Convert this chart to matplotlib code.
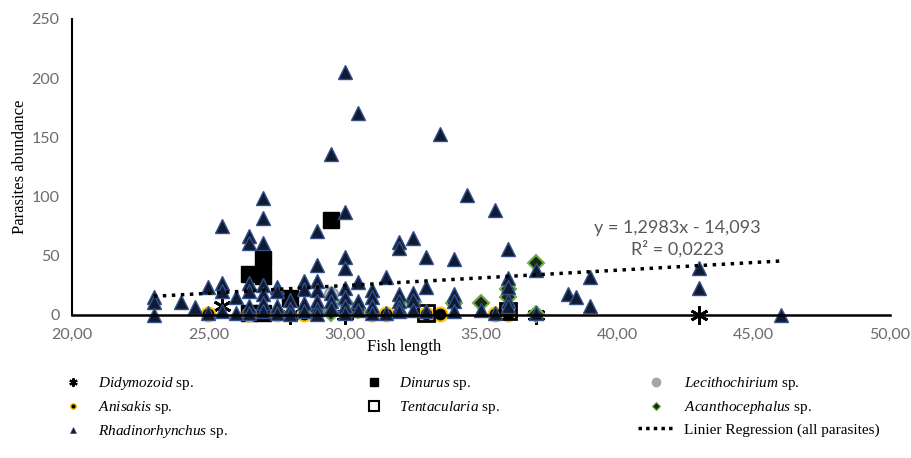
import matplotlib
matplotlib.use("Agg")
import matplotlib.pyplot as plt
from matplotlib.lines import Line2D

plt.rcParams['mathtext.fontset'] = 'custom'
plt.rcParams['mathtext.rm'] = 'Liberation Serif'
plt.rcParams['mathtext.it'] = 'Liberation Serif:italic'

# fish length (cm) vs parasite count
didy_x = [25.5, 28.0, 30.0, 37.0, 43.0]
didy_y = [8, 0, 0, 0, 0]

dinu_x = [26.5, 27.0, 27.0, 28.0, 29.5, 26.5, 27.0]
dinu_y = [35, 47, 33, 14, 80, 2, 2]

leci_x = [29.5]
leci_y = [18]

anis_x = [25.0, 26.5, 27.5, 28.5, 31.0, 31.5, 33.0, 33.5, 35.5, 36.0]
anis_y = [1, 1, 1, 1, 1, 1, 1, 1, 1, 1]

tent_x = [33.0, 36.0]
tent_y = [2, 3]

acan_x = [29.0, 29.5, 30.0, 30.5, 32.5, 34.0, 35.0, 36.0, 36.0, 37.0, 37.0]
acan_y = [3, 2, 10, 4, 11, 10, 10, 22, 15, 44, 1]

rhad_x = [23, 23, 23, 24, 24.5, 25, 25,
          25.5, 25.5, 25.5, 25.5, 26, 26,
          26.5, 26.5, 26.5, 26.5, 26.5, 26.5,
          27, 27, 27, 27, 27, 27, 27,
          27.5, 27.5, 27.5, 27.5, 28, 28, 28,
          28.5, 28.5, 28.5, 28.5,
          29, 29, 29, 29, 29, 29, 29,
          29.5, 29.5, 29.5, 29.5,
          30, 30, 30, 30, 30, 30, 30, 30,
          30.5, 30.5, 30.5, 30.5, 31, 31, 31, 31, 31.5, 31.5,
          32, 32, 32, 32, 32, 32, 32.5, 32.5, 32.5, 32.5,
          33, 33, 33, 33.5, 34, 34, 34, 34, 34.5, 35, 35.5, 35.5,
          36, 36, 36, 36, 36, 37, 37, 38.2, 38.5, 39, 39, 43, 43, 46]
rhad_y = [15, 11, 0, 11, 7, 24, 2,
          75, 27, 20, 3, 15, 2,
          67, 61, 27, 20, 8, 2,
          99, 82, 61, 25, 18, 10, 3,
          24, 20, 8, 2, 13, 5, 1,
          29, 22, 10, 3,
          71, 42, 29, 21, 12, 5, 1,
          136, 19, 12, 6,
          205, 87, 49, 40, 23, 15, 8, 2,
          171, 28, 12, 4, 21, 15, 8, 2, 32, 2,
          62, 57, 18, 12, 7, 3, 65, 19, 13, 4,
          49, 24, 3, 153, 47, 18, 12, 3, 101, 4, 89, 2,
          56, 31, 24, 12, 8, 38, 2, 18, 15, 32, 8, 40, 23, 0]

slope = 1.2983
intercept = -14.093
reg_x = [23, 46]

fig = plt.figure(figsize=(9.12, 4.58), dpi=100)
ax = fig.add_axes([72/912, 1-315/458, 818/912, 296/458])

kw = dict(linestyle='none', clip_on=False)
h1, = ax.plot(didy_x, didy_y, marker=(6, 2, 0), color='black', ms=13, mew=2, **kw)
h2, = ax.plot(dinu_x, dinu_y, marker='s', color='black', ms=11.5, **kw)
h3, = ax.plot(leci_x, leci_y, marker='o', mfc='#a6a6a6', mec='#7f7f7f', alpha=0.7, ms=10, **kw)
h4, = ax.plot(anis_x, anis_y, marker='o', mfc='black', mec='#ffc000', mew=1.5, ms=10, **kw)
h5, = ax.plot(tent_x, tent_y, marker='s', mfc='none', mec='black', mew=2, ms=12, **kw)
h6, = ax.plot(acan_x, acan_y, marker='D', mfc='#1a2a12', mec='#70ad47', mew=1.5, ms=8.5, **kw)
h7, = ax.plot(rhad_x, rhad_y, marker='^', mfc='#0f1a33', mec='#34508a', mew=1, ms=10, **kw)

reg_y = [slope * v + intercept for v in reg_x]
h8, = ax.plot(reg_x, reg_y, color='black', ls=(0, (1, 1.6)), lw=2.5, zorder=5)

ax.text(42.2, 64, 'y = 1,2983x - 14,093\nR² = 0,0223', ha='center', va='center',
        multialignment='center', fontsize=13, color='#595959', family='Lato', linespacing=1.3)

ax.set_xlim(20, 50)
ax.set_ylim(0, 250)
ax.set_xticks([20, 25, 30, 35, 40, 45, 50])
ax.set_xticklabels(['20,00', '25,00', '30,00', '35,00', '40,00', '45,00', '50,00'])
ax.set_yticks([0, 50, 100, 150, 200, 250])
for s in ['top', 'right']:
    ax.spines[s].set_visible(False)
ax.spines['left'].set_linewidth(1.5)
ax.spines['bottom'].set_linewidth(1.8)
ax.tick_params(length=0, labelsize=11.5, labelcolor='#6b6b6b', pad=9)
for lab in ax.get_xticklabels() + ax.get_yticklabels():
    lab.set_family('Lato')

ax.set_xlabel('Fish length', family='Liberation Serif', fontsize=12)
ax.xaxis.set_label_coords((404-72)/818, -0.08)
ax.set_ylabel('Parasites abundance', family='Liberation Serif', fontsize=12)
ax.yaxis.set_label_coords(-0.054, 0.5)

def small(h, **over):
    m = dict(marker=h.get_marker(), mfc=h.get_mfc(), mec=h.get_mec(), linestyle='none')
    m.update(over)
    return Line2D([], [], **m)

lk = dict(frameon=False, prop={'family': 'Liberation Serif', 'size': 11},
          handletextpad=0.6, labelspacing=0.45, loc='upper left', borderaxespad=0)
fig.legend([small(h1, ms=6, color='black', mew=1.5), small(h4, ms=4), small(h7, ms=5, mew=0.5)],
           [r'$\it{Didymozoid}$ sp.', r'$\it{Anisakis}$ sp.', r'$\it{Rhadinorhynchus}$ sp.'],
           bbox_to_anchor=(52/912, 1-369/458), **lk)
fig.legend([small(h2, ms=6), small(h5, ms=7, mew=1.5)],
           [r'$\it{Dinurus}$ sp.', r'$\it{Tentacularia}$ sp.'],
           bbox_to_anchor=(353/912, 1-369/458), **lk)
fig.legend([small(h3, ms=6, mec='#a6a6a6'), small(h6, ms=4, mew=0.8),
            Line2D([], [], color='black', ls=(0, (1, 1.2)), lw=2.5)],
           [r'$\it{Lecithochirium}$ sp.', r'$\it{Acanthocephalus}$ sp.', 'Linier Regression (all parasites)'],
           bbox_to_anchor=(632/912, 1-369/458), handlelength=2.4, **lk)

fig.savefig('out.png', dpi=100)
